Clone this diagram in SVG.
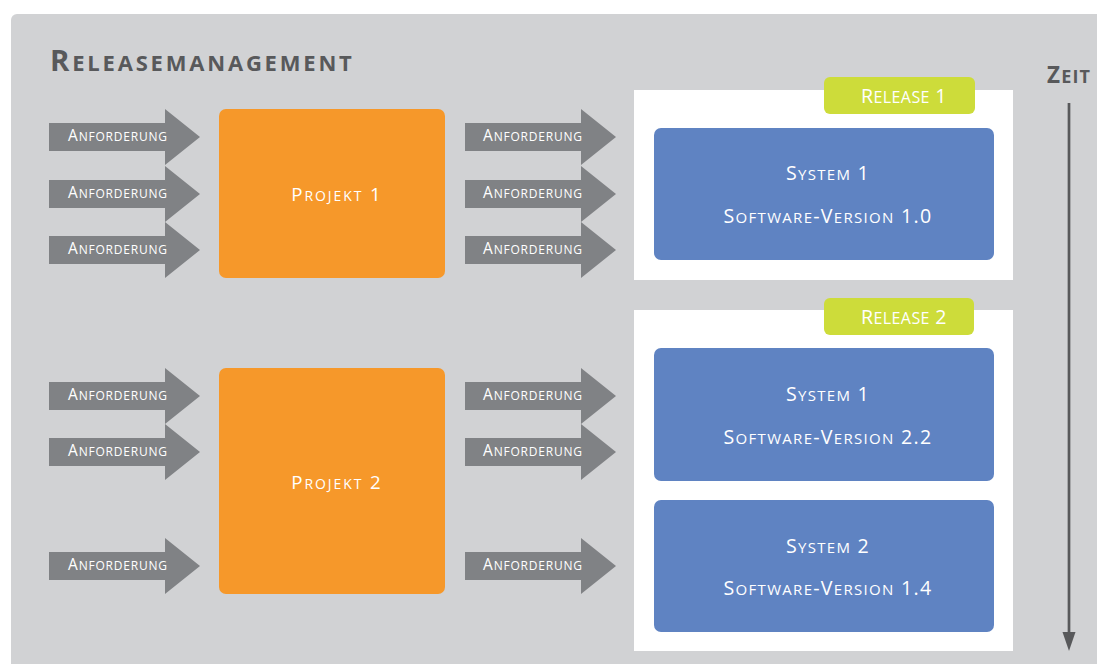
<svg xmlns="http://www.w3.org/2000/svg" width="1097" height="664" viewBox="0 0 1097 664">
<style>
.sc{font-family:"Open Sans","Noto Sans","Liberation Sans",sans-serif;font-variant:small-caps;}
.title{font-size:29.4px;font-weight:700;fill:#58595b;letter-spacing:2.8px;}
.title .l{font-size:32px;}
.zeit{font-size:22.4px;font-weight:700;fill:#58595b;letter-spacing:1.2px;}
.zeit .l{font-size:26px;}
.arr{fill:#808285;}
.arrtxt{font-size:15.4px;fill:#ffffff;text-anchor:middle;font-weight:500;letter-spacing:0.8px;}
.arrtxt .l{font-size:17.4px;}
.proj{fill:#f6982a;}
.projtxt{font-size:18.7px;fill:#ffffff;text-anchor:middle;letter-spacing:1.9px;}
.projtxt .l{font-size:20px;}
.panel{fill:#ffffff;}
.tag{fill:#cddc3a;}
.tagtxt{font-size:19.6px;fill:#ffffff;text-anchor:middle;letter-spacing:0.4px;}
.tagtxt .l{font-size:23.4px;}
.sys{fill:#5f83c2;}
.systxt{font-size:19.6px;fill:#ffffff;text-anchor:middle;letter-spacing:1.3px;}
.systxt .l{font-size:21.4px;}
.axis{stroke:#58595b;stroke-width:2.7;fill:none;}
</style>
<defs>
<path id="blk" d="M0,-14 H116 V-28 L151,0 L116,28 V14 H0 Z"/>
</defs>
<rect x="11" y="14" width="1100" height="670" rx="6" fill="#d1d2d4"/>
<text class="sc title" x="50" y="71">R<tspan class="l">eleasemanagement</tspan></text>
<text class="sc zeit" x="1047" y="83">Z<tspan class="l">eit</tspan></text>

<g id="connectors">
<g id="req-p1-in-1"><use href="#blk" class="arr" x="49" y="137"/><text class="sc arrtxt" x="118" y="141">A<tspan class="l">nforderung</tspan></text></g>
<g id="req-p1-in-2"><use href="#blk" class="arr" x="49" y="194"/><text class="sc arrtxt" x="118" y="198">A<tspan class="l">nforderung</tspan></text></g>
<g id="req-p1-in-3"><use href="#blk" class="arr" x="49" y="250"/><text class="sc arrtxt" x="118" y="254">A<tspan class="l">nforderung</tspan></text></g>
<g id="req-p1-out-1"><use href="#blk" class="arr" x="465" y="137"/><text class="sc arrtxt" x="533" y="141">A<tspan class="l">nforderung</tspan></text></g>
<g id="req-p1-out-2"><use href="#blk" class="arr" x="465" y="194"/><text class="sc arrtxt" x="533" y="198">A<tspan class="l">nforderung</tspan></text></g>
<g id="req-p1-out-3"><use href="#blk" class="arr" x="465" y="250"/><text class="sc arrtxt" x="533" y="254">A<tspan class="l">nforderung</tspan></text></g>
<g id="req-p2-in-1"><use href="#blk" class="arr" x="49" y="396"/><text class="sc arrtxt" x="118" y="400">A<tspan class="l">nforderung</tspan></text></g>
<g id="req-p2-in-2"><use href="#blk" class="arr" x="49" y="452"/><text class="sc arrtxt" x="118" y="456">A<tspan class="l">nforderung</tspan></text></g>
<g id="req-p2-in-3"><use href="#blk" class="arr" x="49" y="566"/><text class="sc arrtxt" x="118" y="570">A<tspan class="l">nforderung</tspan></text></g>
<g id="req-p2-out-1"><use href="#blk" class="arr" x="465" y="396"/><text class="sc arrtxt" x="533" y="400">A<tspan class="l">nforderung</tspan></text></g>
<g id="req-p2-out-2"><use href="#blk" class="arr" x="465" y="452"/><text class="sc arrtxt" x="533" y="456">A<tspan class="l">nforderung</tspan></text></g>
<g id="req-p2-out-3"><use href="#blk" class="arr" x="465" y="566"/><text class="sc arrtxt" x="533" y="570">A<tspan class="l">nforderung</tspan></text></g>
<path id="zeit-axis" class="axis" d="M1069,103 V633"/>
<path d="M1062.5,632 L1075.5,632 L1069,651 Z" fill="#58595b"/>
</g>

<g id="projekt1"><rect class="proj" x="219" y="109" width="226" height="169" rx="7"/><text class="sc projtxt" x="337" y="201">P<tspan class="l">rojekt</tspan> 1</text></g>
<g id="projekt2"><rect class="proj" x="219" y="368" width="226" height="226" rx="7"/><text class="sc projtxt" x="337" y="489">P<tspan class="l">rojekt</tspan> 2</text></g>

<g id="release1">
<rect class="panel" x="634" y="90" width="379" height="190"/>
<rect class="tag" x="824" y="77" width="151" height="37" rx="6"/>
<text class="sc tagtxt" x="904" y="103">R<tspan class="l">elease</tspan> 1</text>
</g>
<g id="release1-system1">
<rect class="sys" x="654" y="128" width="340" height="132" rx="7"/>
<text class="sc systxt" x="828" y="180">S<tspan class="l">ystem</tspan> 1</text>
<text class="sc systxt" x="828" y="223">S<tspan class="l">oftware</tspan>-V<tspan class="l">ersion</tspan> 1.0</text>
</g>

<g id="release2">
<rect class="panel" x="634" y="310" width="379" height="341"/>
<rect class="tag" x="824" y="298" width="150" height="37" rx="6"/>
<text class="sc tagtxt" x="904" y="324">R<tspan class="l">elease</tspan> 2</text>
</g>
<g id="release2-system1">
<rect class="sys" x="654" y="348" width="340" height="133" rx="7"/>
<text class="sc systxt" x="828" y="401">S<tspan class="l">ystem</tspan> 1</text>
<text class="sc systxt" x="828" y="444">S<tspan class="l">oftware</tspan>-V<tspan class="l">ersion</tspan> 2.2</text>
</g>
<g id="release2-system2">
<rect class="sys" x="654" y="500" width="340" height="132" rx="7"/>
<text class="sc systxt" x="828" y="553">S<tspan class="l">ystem</tspan> 2</text>
<text class="sc systxt" x="828" y="595">S<tspan class="l">oftware</tspan>-V<tspan class="l">ersion</tspan> 1.4</text>
</g>
</svg>
